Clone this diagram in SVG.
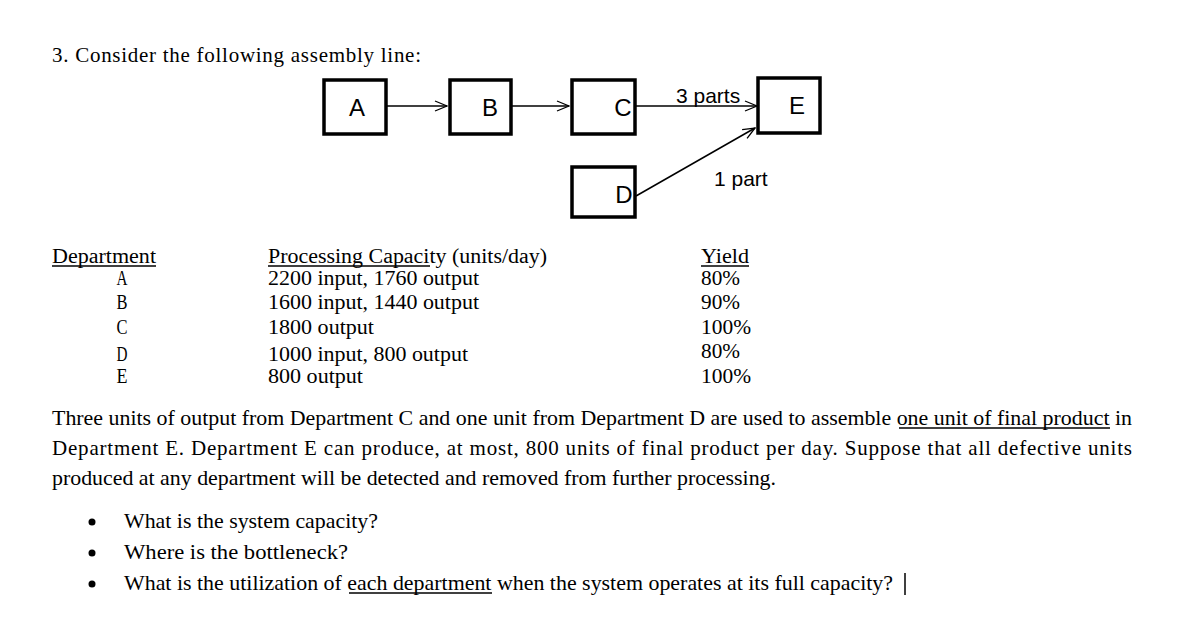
<svg xmlns="http://www.w3.org/2000/svg" width="1188" height="638" viewBox="0 0 1188 638">
<style>
.b{fill:#fff;stroke:#000;stroke-width:3.5}
.s{font-family:"Liberation Sans",Arial,sans-serif;font-size:21px}
.n{font-family:"Liberation Sans",Arial,sans-serif;font-size:24px}
.t{font-family:"Liberation Serif","Times New Roman",serif;font-size:21px}
.c{font-family:"Liberation Serif","Times New Roman",serif;font-size:20px}
.e{stroke:#000;stroke-width:1.5;fill:none}
.u{stroke:#000;stroke-width:1.3}
</style>
<defs><marker id="ah" markerWidth="14" markerHeight="12" refX="13" refY="6" orient="auto" markerUnits="userSpaceOnUse"><path d="M1,1 L13,6 L1,11" fill="none" stroke="#000" stroke-width="1.3"/></marker></defs>
<rect width="1188" height="638" fill="#fff"/>
<text class="t" x="52" y="62" textLength="369" lengthAdjust="spacing">3.  Consider the following assembly line:</text>
<g id="connectors">
<line class="e" x1="386" y1="106" x2="447" y2="106" marker-end="url(#ah)"/>
<line class="e" x1="511" y1="106" x2="569" y2="106" marker-end="url(#ah)"/>
<line class="e" x1="635" y1="106" x2="757" y2="106" marker-end="url(#ah)"/>
<line class="e" x1="636" y1="196" x2="755" y2="128" marker-end="url(#ah)"/>
<text class="s" x="676" y="103">3 parts</text>
<text class="s" x="714" y="186">1 part</text>
</g>
<g id="A"><rect class="b" x="324" y="80" width="62" height="54"/><text class="n" x="357" y="116" text-anchor="middle">A</text></g>
<g id="B"><rect class="b" x="450" y="80" width="61" height="54"/><text class="n" x="490" y="116" text-anchor="middle">B</text></g>
<g id="C"><rect class="b" x="572" y="80" width="63" height="54"/><text class="n" x="623" y="116" text-anchor="middle">C</text></g>
<g id="E"><rect class="b" x="758" y="78" width="62" height="55"/><text class="n" x="797" y="114" text-anchor="middle">E</text></g>
<g id="D"><rect class="b" x="572" y="167" width="63" height="50"/><text class="n" x="624" y="203" text-anchor="middle">D</text></g>
<g id="table">
<text class="c" x="52" y="263" textLength="104" lengthAdjust="spacingAndGlyphs">Department</text>
<line class="u" x1="52" y1="266" x2="156" y2="266"/>
<text class="c" x="122" y="285" text-anchor="middle" textLength="11" lengthAdjust="spacingAndGlyphs">A</text>
<text class="c" x="122" y="309" text-anchor="middle" textLength="11" lengthAdjust="spacingAndGlyphs">B</text>
<text class="c" x="122" y="334" text-anchor="middle" textLength="11" lengthAdjust="spacingAndGlyphs">C</text>
<text class="c" x="122" y="361" text-anchor="middle" textLength="11" lengthAdjust="spacingAndGlyphs">D</text>
<text class="c" x="122" y="383" text-anchor="middle" textLength="11" lengthAdjust="spacingAndGlyphs">E</text>
<text class="c" x="268" y="263" textLength="279" lengthAdjust="spacingAndGlyphs">Processing Capacity (units/day)</text>
<line class="u" x1="268" y1="266" x2="430" y2="266"/>
<text class="c" x="268" y="285" textLength="211" lengthAdjust="spacingAndGlyphs">2200 input, 1760 output</text>
<text class="c" x="268" y="309" textLength="211" lengthAdjust="spacingAndGlyphs">1600 input, 1440 output</text>
<text class="c" x="268" y="334" textLength="106" lengthAdjust="spacingAndGlyphs">1800 output</text>
<text class="c" x="268" y="361" textLength="200" lengthAdjust="spacingAndGlyphs">1000 input, 800 output</text>
<text class="c" x="268" y="383" textLength="95" lengthAdjust="spacingAndGlyphs">800 output</text>
<text class="c" x="701" y="263" textLength="48" lengthAdjust="spacingAndGlyphs">Yield</text>
<line class="u" x1="701" y1="266" x2="749" y2="266"/>
<text class="c" x="701" y="285" textLength="39" lengthAdjust="spacingAndGlyphs">80%</text>
<text class="c" x="701" y="309" textLength="39" lengthAdjust="spacingAndGlyphs">90%</text>
<text class="c" x="701" y="334" textLength="50" lengthAdjust="spacingAndGlyphs">100%</text>
<text class="c" x="701" y="358" textLength="39" lengthAdjust="spacingAndGlyphs">80%</text>
<text class="c" x="701" y="383" textLength="50" lengthAdjust="spacingAndGlyphs">100%</text>
</g>
<text class="t" x="52" y="425" textLength="1080" lengthAdjust="spacingAndGlyphs">Three units of output from Department C and one unit from Department D are used to assemble one unit of final product in</text>
<line class="u" x1="899" y1="428" x2="1110" y2="428"/>
<text class="t" x="52" y="455" textLength="1080" lengthAdjust="spacing">Department E. Department E can produce, at most, 800 units of final product per day. Suppose that all defective units</text>
<text class="t" x="52" y="485" textLength="724" lengthAdjust="spacingAndGlyphs">produced at any department will be detected and removed from further processing.</text>
<circle cx="92" cy="522" r="3.5"/><text class="t" x="124" y="528" textLength="254" lengthAdjust="spacingAndGlyphs">What is the system capacity?</text>
<circle cx="92" cy="553" r="3.5"/><text class="t" x="124" y="559" textLength="224" lengthAdjust="spacingAndGlyphs">Where is the bottleneck?</text>
<circle cx="92" cy="584" r="3.5"/><text class="t" x="124" y="590" textLength="769" lengthAdjust="spacingAndGlyphs">What is the utilization of each department when the system operates at its full capacity?</text>
<line class="u" x1="349" y1="593" x2="492" y2="593"/>
<line x1="905" y1="573" x2="905" y2="595" stroke="#000" stroke-width="1.5"/>
</svg>
